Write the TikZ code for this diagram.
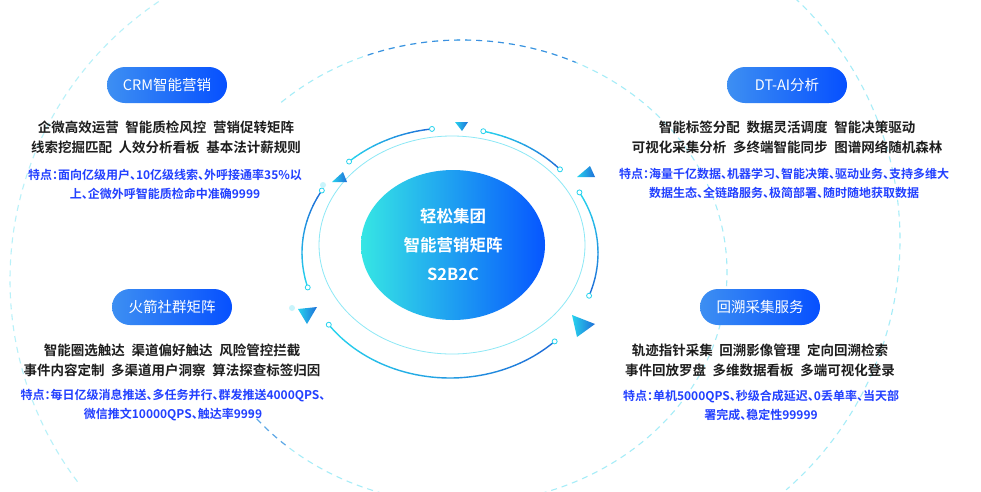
\documentclass[tikz,border=0pt]{standalone}
\usepackage{fontspec}
\setmainfont{Noto Sans CJK SC}[BoldFont={Noto Sans CJK SC Bold}]
\usetikzlibrary{shapes.geometric}
\definecolor{pillleft}{HTML}{3D8FF2}
\definecolor{pillright}{HTML}{0650FF}
\definecolor{coreleft}{HTML}{36E6E4}
\definecolor{coreright}{HTML}{0656FF}
\definecolor{arccyan}{HTML}{27D3EE}
\definecolor{arcblue}{HTML}{1F6FD8}
\definecolor{ringcyan}{HTML}{A6EDF8}
\definecolor{ringblue}{HTML}{3C8FE0}
\definecolor{specblack}{HTML}{1E1E1E}
\definecolor{featblue}{HTML}{2240FF}
\newcommand{\itemgap}{\hspace{0.5em}}

\begin{document}
\begin{tikzpicture}[x=1pt, y=-1pt,
    pill/.style={rectangle, rounded corners=18pt, minimum width=120pt, minimum height=36pt,
      left color=pillleft, right color=pillright, text=white, font=\fontsize{14.5}{16}\selectfont},
    spec/.style={align=center, text=specblack, inner sep=0pt, font=\bfseries\fontsize{13.5}{20}\selectfont},
    feat/.style={align=center, text=featblue, inner sep=0pt,
      font=\bfseries\fontsize{12}{19}\selectfont\addfontfeatures{RawFeature=+halt}},
    core/.style={ellipse, minimum width=184pt, minimum height=150pt, left color=coreleft, right color=coreright,
      text=white, align=center, font=\bfseries\fontsize{16.5}{29}\selectfont},
    dashring/.style={line width=1.1pt, dash pattern=on 6pt off 5pt},
    arcline/.style={line width=1.4pt, line cap=round},
    knob/.style={draw=arccyan, fill=white, line width=0.8pt},
    marker/.style={left color=arccyan, right color=arcblue}]
  \useasboundingbox[fill=white] (0,0) rectangle (981,491);

  % big dashed rings
  \draw[dashring, ringcyan!80] (345,280) ++(143:335) arc[start angle=143, end angle=238, radius=335];
  \draw[dashring, ringcyan] (569,240) ++(-47:331) arc[start angle=-47, end angle=49, radius=331];
  \draw[dashring, ringcyan] (462,272) ++(-133:265 and 232) arc[start angle=-133, end angle=143, x radius=265, y radius=232];
  \begin{scope}
    \clip (475,38) ellipse[x radius=120, y radius=45];
    \draw[dashring, ringblue] (462,272) ++(-133:265 and 232) arc[start angle=-133, end angle=143, x radius=265, y radius=232];
  \end{scope}
  \begin{scope}
    \clip (235,428) circle[radius=55];
    \draw[dashring, ringblue!80] (462,272) ++(-133:265 and 232) arc[start angle=-133, end angle=143, x radius=265, y radius=232];
  \end{scope}

  % inner ring and arcs
  \draw[ringcyan!80!arccyan, line width=0.8pt] (452,245) ellipse[x radius=133, y radius=109];
  \foreach \u/\v in {-133/-97, -77/-42, -29/20, 145/45, 164/210} {
    \foreach \k in {0,...,11} {
      \pgfmathsetmacro\aa{\u+(\v-\u)*\k/12}
      \pgfmathsetmacro\bb{\u+(\v-\u)*(\k+1)/12}
      \pgfmathsetmacro\pp{100*\k/11}
      \draw[arcline, draw=arcblue!\pp!arccyan] (450,253) ++(\aa:148 and 125)
        arc[start angle=\aa, end angle=\bb, x radius=148, y radius=125];
    }
    \draw[knob] (450,253) ++(\u:148 and 125) circle[radius=2.5];
    \draw[knob] (450,253) ++(\v:148 and 125) circle[radius=2.5];
  }

  % markers
  \shade[marker] (455,122) -- (468,122) -- (462,131) -- cycle;
  \shade[marker] (577,177) -- (595,177) -- (590,166) -- cycle;
  \shade[marker] (332,182) -- (347,182) -- (343,172) -- cycle;
  \shade[marker] (298,309) -- (317,307) -- (307,324) -- cycle;
  \shade[marker] (572,315) -- (595,324) -- (577,337) -- cycle;
  \fill[arccyan!25] (323,185) circle[radius=3];
  \fill[arccyan!25] (292,308) circle[radius=3];

  \node[core] (core) at (453,245) {轻松集团\\智能营销矩阵\\S2B2C};

  % CRM
  \node[pill] (crm) at (167,85) {CRM智能营销};
  \node[spec] (crmspec) at (166,137) {企微高效运营\itemgap 智能质检风控\itemgap 营销促转矩阵\\线索挖掘匹配\itemgap 人效分析看板\itemgap 基本法计薪规则};
  \node[feat] (crmfeat) at (165,184) {特点：面向亿级用户、10亿级线索、外呼接通率35\%以\\上、企微外呼智能质检命中准确9999};

  % DT-AI
  \node[pill] (dtai) at (787,85) {DT-AI分析};
  \node[spec] (dtaispec) at (787,137) {智能标签分配\itemgap 数据灵活调度\itemgap 智能决策驱动\\可视化采集分析\itemgap 多终端智能同步\itemgap 图谱网络随机森林};
  \node[feat] (dtaifeat) at (784,183) {特点：海量千亿数据、机器学习、智能决策、驱动业务、支持多维大\\数据生态、全链路服务、极简部署、随时随地获取数据};

  % rocket
  \node[pill] (rocket) at (172,307) {火箭社群矩阵};
  \node[spec] (rocketspec) at (172,360) {智能圈选触达\itemgap 渠道偏好触达\itemgap 风险管控拦截\\事件内容定制\itemgap 多渠道用户洞察\itemgap 算法探查标签归因};
  \node[feat] (rocketfeat) at (173,405) {特点：每日亿级消息推送、多任务并行、群发推送4000QPS、\\微信推文10000QPS、触达率9999};

  % trace
  \node[pill] (trace) at (760,307) {回溯采集服务};
  \node[spec] (tracespec) at (760,360) {轨迹指针采集\itemgap 回溯影像管理\itemgap 定向回溯检索\\事件回放罗盘\itemgap 多维数据看板\itemgap 多端可视化登录};
  \node[feat] (tracefeat) at (761,405) {特点：单机5000QPS、秒级合成延迟、0丢单率、当天部\\署完成、稳定性99999};
\end{tikzpicture}
\end{document}
